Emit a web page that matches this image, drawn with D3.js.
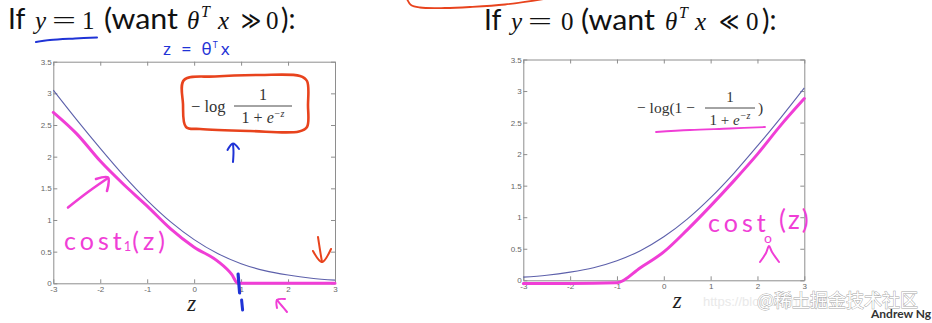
<!DOCTYPE html>
<html><head><meta charset="utf-8">
<script src="https://cdn.jsdelivr.net/npm/d3@7"></script>
<style>
body{margin:0;background:#fff}
.ax .domain{stroke:#8e8e8e;stroke-width:1}
.ax .tick line{stroke:#8e8e8e;stroke-width:1}
.ax .tick text{fill:#666;font-family:"Liberation Sans",Arial,sans-serif;font-size:8px}
</style>
</head><body>
<svg id="c" width="932" height="323" xmlns="http://www.w3.org/2000/svg"></svg>
<script>
// ---------- data ----------
const zGrid = [-3,-2.5,-2,-1.5,-1,-0.5,0,0.5,1,1.5,2,2.5,3];
const logCostY1 = [3.05,2.58,2.13,1.70,1.31,0.97,0.69,0.47,0.31,0.20,0.13,0.08,0.05];
const logCostY0 = [0.05,0.08,0.13,0.20,0.31,0.47,0.69,0.97,1.31,1.70,2.13,2.58,3.05];
const cost1Z = [-3,-2.5,-2,-1.5,-1,-0.5,0,0.5,0.8,0.93,1.5,2,2.5,3];
const cost1Vals = [2.70,2.36,1.93,1.56,1.22,0.86,0.57,0.35,0.14,0,0,0,0,0];
const cost0Z = [-3,-2,-1,-0.5,0,0.5,1,1.5,2,2.5,3];
const cost0Vals = [-0.05,-0.05,-0.04,0.20,0.45,0.80,1.18,1.58,2.0,2.46,2.88];
const xTicks = [-3,-2,-1,0,1,2,3];
const xTickLabels = ["-3","-2","-1","0","1","2","3"];
const yTicks = [0,0.5,1,1.5,2,2.5,3,3.5];
const yTickLabels = ["0","0.5","1","1.5","2","2.5","3","3.5"];

const BLUE_LINE = "#5d60ab", PINK = "#f03ed6", PEN_BLUE = "#1f33d6", PEN_RED = "#e8431d";
const SANS = "Lato, 'Liberation Sans', sans-serif";
const SERIF = "'Liberation Serif', 'DejaVu Serif', serif";

const svg = d3.select("#c");
svg.append("rect").attr("width",932).attr("height",323).attr("fill","#fff");

function panel(cfg){
  const x = d3.scaleLinear().domain([-3,3]).range([cfg.x0,cfg.x1]);
  const y = d3.scaleLinear().domain([0,3.5]).range([cfg.y0,cfg.y1]);
  const g = svg.append("g");
  g.append("g").attr("class","ax").attr("transform",`translate(0,${cfg.y0})`)
    .call(d3.axisBottom(x).tickValues(xTicks).tickFormat((d,i)=>xTickLabels[i]).tickSizeInner(-4).tickSizeOuter(0).tickPadding(3));
  g.append("g").attr("class","ax").attr("transform",`translate(0,${cfg.y1})`)
    .call(d3.axisTop(x).tickValues(xTicks).tickFormat("").tickSizeInner(-4).tickSizeOuter(0));
  g.append("g").attr("class","ax").attr("transform",`translate(${cfg.x0},0)`)
    .call(d3.axisLeft(y).tickValues(yTicks).tickFormat((d,i)=>yTickLabels[i]).tickSizeInner(-4).tickSizeOuter(0).tickPadding(1.5));
  g.append("g").attr("class","ax").attr("transform",`translate(${cfg.x1},0)`)
    .call(d3.axisRight(y).tickValues(yTicks).tickFormat("").tickSizeInner(-4).tickSizeOuter(0));
  const line = d3.line().x(d=>x(d[0])).y(d=>y(d[1])).curve(d3.curveMonotoneX);
  g.append("path").attr("d",line(zGrid.map((z,i)=>[z,cfg.blue[i]])))
    .attr("fill","none").attr("stroke",BLUE_LINE).attr("stroke-width",1.1);
  g.append("path").attr("d",line(cfg.pinkZ.map((z,i)=>[z,cfg.pinkV[i]])))
    .attr("fill","none").attr("stroke",PINK).attr("stroke-width",3).attr("stroke-linecap","round").attr("stroke-linejoin","round");
  g.append("text").attr("x",x(0)+cfg.zdx).attr("y",cfg.zy).text("z")
    .attr("font-family",SERIF).attr("font-style","italic").attr("font-size",23).attr("fill","#222");
  return {x,y,g};
}

const L = panel({x0:53.3,x1:335,y0:283.3,y1:61.7,blue:logCostY1,pinkZ:cost1Z,pinkV:cost1Vals,zdx:-7,zy:311});
const R = panel({x0:523.3,x1:804.3,y0:280.3,y1:59.5,blue:logCostY0,pinkZ:cost0Z,pinkV:cost0Vals,zdx:9,zy:308});

// ---------- titles ----------
function title(pieces, base){
  pieces.forEach(p=>{
    const t = svg.append("text").attr("x",p.x).attr("y",base+(p.dy||0)).text(p.t)
      .attr("font-family",p.f==="s"?SANS:SERIF).attr("font-size",p.fs||(p.f==="s"?28:25))
      .attr("fill","#111");
    if(p.it) t.attr("font-style","italic");
    if(p.w) t.attr("textLength",p.w).attr("lengthAdjust","spacingAndGlyphs");
  });
}
title([
  {t:"If",x:8,f:"s"},
  {t:"y",x:35,it:1},
  {t:"=",x:52,w:24},
  {t:"1",x:82},
  {t:"(want",x:104,f:"s",w:74},
  {t:"θ",x:187,it:1},
  {t:"T",x:201,it:1,fs:16,dy:-12},
  {t:"x",x:218,it:1},
  {t:"≫",x:241,w:20},
  {t:"0",x:266},
  {t:"):",x:281,f:"s"}
],29);
title([
  {t:"If",x:484,f:"s"},
  {t:"y",x:511,it:1},
  {t:"=",x:528,w:24},
  {t:"0",x:561},
  {t:"(want",x:581,f:"s",w:74},
  {t:"θ",x:665,it:1},
  {t:"T",x:679,it:1,fs:16,dy:-12},
  {t:"x",x:695,it:1},
  {t:"≪",x:719,w:20},
  {t:"0",x:746},
  {t:"):",x:762,f:"s"}
],29.5);

// ---------- formulas ----------
function fraction(xBar0, xBar1, yBar, num, fs){
  svg.append("line").attr("x1",xBar0).attr("x2",xBar1).attr("y1",yBar).attr("y2",yBar).attr("stroke","#333").attr("stroke-width",0.9);
  svg.append("text").attr("x",(xBar0+xBar1)/2).attr("y",yBar-6).attr("text-anchor","middle").text(num)
    .attr("font-family",SERIF).attr("font-size",fs).attr("fill","#333");
  const d = svg.append("text").attr("x",(xBar0+xBar1)/2).attr("y",yBar+17).attr("text-anchor","middle")
    .attr("font-family",SERIF).attr("font-size",fs).attr("fill","#333");
  d.append("tspan").text("1 + ");
  d.append("tspan").text("e").attr("font-style","italic");
  d.append("tspan").text("−z").attr("font-size",10).attr("dy",-6).attr("font-style","italic");
}
svg.append("text").attr("x",191).attr("y",112).text("− log").attr("font-family",SERIF).attr("font-size",16.5).attr("fill","#333");
fraction(234,292,106,"1",16);
svg.append("text").attr("x",637).attr("y",113).text("− log(1 −").attr("font-family",SERIF).attr("font-size",15.5).attr("fill","#333");
fraction(705,755,108,"1",15);
svg.append("text").attr("x",758).attr("y",113).text(")").attr("font-family",SERIF).attr("font-size",15.5).attr("fill","#333");

// ---------- hand-drawn annotations ----------
const pen = d3.line().curve(d3.curveCatmullRom);
const penClosed = d3.line().curve(d3.curveCatmullRomClosed);
function stroke(pts, color, w, closed){
  svg.append("path").attr("d",(closed?penClosed:pen)(pts)).attr("fill","none").attr("stroke",color)
    .attr("stroke-width",w).attr("stroke-linecap","round").attr("stroke-linejoin","round");
}
stroke([[407,-1],[411,5],[420,7.5],[445,8],[470,7],[505,4.5],[544,-1]],PEN_RED,1.8);
stroke([[36,42],[50,40],[75,38.5],[97,37.5]],PEN_BLUE,2);
const zt = svg.append("text").attr("x",163).attr("y",55).attr("font-family","'Noto Sans',sans-serif").attr("font-size",17).attr("fill",PEN_BLUE).attr("letter-spacing",3);
zt.append("tspan").text("z = θ");
zt.append("tspan").text("T").attr("font-size",9).attr("dy",-7).attr("dx",-2);
zt.append("tspan").text("x").attr("dy",7).attr("dx",0);
stroke([[184,80],[215,76.5],[260,75],[300,76],[307,81],[308,105],[307,127],[299,131.5],[250,131],[200,129],[186,127],[183,104]],PEN_RED,2.6,true);
stroke([[233,162],[233.5,152],[233,144]],PEN_BLUE,2);
stroke([[227.5,150],[233,143.5],[239,149]],PEN_BLUE,2);
stroke([[68,207.5],[88,192],[108,178]],PINK,2.6);
stroke([[96,179],[108,177.5],[107,191]],PINK,2.6);
const c1 = svg.append("text").attr("x",64).attr("y",250).attr("font-family",SANS).attr("font-size",25).attr("fill",PINK).attr("letter-spacing",4);
c1.append("tspan").text("cost");
c1.append("tspan").text("1").attr("font-size",13).attr("dy",1).attr("dx",-2);
c1.append("tspan").text("(z)").attr("dy",-1).attr("dx",-3);
stroke([[318,237],[320,250],[322,262]],PEN_RED,2);
stroke([[313,251],[322,262],[331,249]],PEN_RED,2);
const xb = L.x(1)-3;
stroke([[xb,274],[xb+0.8,284],[xb+1.5,293]],PEN_BLUE,3.2);
stroke([[xb+3.5,300],[xb+4.5,310]],PEN_BLUE,3);
stroke([[287,312],[282,306],[277,300]],PINK,2);
stroke([[277,308],[277,300],[285,299]],PINK,2);
stroke([[656,132],[690,130],[730,128.5],[765,127]],PINK,1.8);
svg.append("text").attr("x",708).attr("y",232).text("cost").attr("font-family",SANS).attr("font-size",25).attr("fill",PINK).attr("letter-spacing",4);
svg.append("text").attr("x",764).attr("y",243).text("o").attr("font-family",SANS).attr("font-size",14).attr("fill",PINK);
svg.append("text").attr("x",779).attr("y",229).text("(z)").attr("font-family",SANS).attr("font-size",26).attr("fill",PINK).attr("letter-spacing",2);
stroke([[760,262],[766,253],[769,246],[772,252],[779,262]],PINK,2);

// ---------- watermark & credit ----------
svg.append("text").attr("x",703).attr("y",306).text("https://blog.csdn.net/")
  .attr("font-family","'Liberation Sans',sans-serif").attr("font-size",13).attr("fill","#e9e9e9");
svg.append("text").attr("x",757).attr("y",307).text("@稀土掘金技术社区")
  .attr("font-family","'Noto Sans CJK SC',sans-serif").attr("font-size",18).attr("fill","#ffffff")
  .attr("stroke","#a6a6a6").attr("stroke-width",0.9).attr("paint-order","stroke");
svg.append("text").attr("x",871).attr("y",318).text("Andrew Ng")
  .attr("font-family",SANS).attr("font-weight",700).attr("font-size",12).attr("fill","#333");
</script>
</body></html>
